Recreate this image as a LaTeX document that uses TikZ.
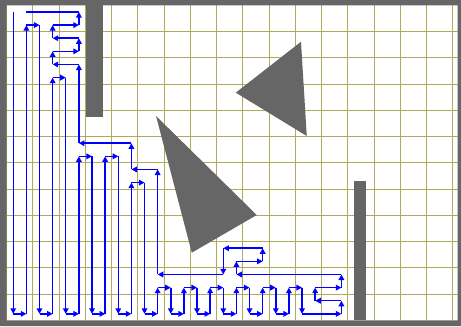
\documentclass[tikz,border=0pt]{standalone}
\usepackage{tikz}
\usetikzlibrary{arrows.meta}
\definecolor{WallGray}{RGB}{102,102,102}
\definecolor{GridOlive}{RGB}{176,170,92}
\definecolor{RouteBlue}{RGB}{0,0,255}

\begin{document}
\begin{tikzpicture}[x=9.84pt, y=-9.84pt,
    gridline/.style={GridOlive, line width=0.75pt},
    route/.style={RouteBlue, line width=1.1pt, -{Triangle[length=4.2pt,width=4.2pt]}}]
    \useasboundingbox (-0.51,-0.41) rectangle (34.61,24.43);

    % Grid cells
    \foreach \c in {0,2,...,34}
      \draw[gridline] (\c,0) -- (\c,24);
    \foreach \r in {2,4,...,22}
      \draw[gridline] (0,\r) -- (34.35,\r);

    % Walls and obstacles
    \fill[WallGray, even odd rule] (-0.51,-0.41) rectangle (34.61,24.43) (0,0) rectangle (34.35,24);
    \fill[WallGray] (6.04,0) rectangle (7.31,8.53);
    \fill[WallGray] (26.48,13.38) rectangle (27.35,24);
    \fill[WallGray] (22.42,2.77) -- (17.45,6.65) -- (22.86,9.95) -- cycle;
    \fill[WallGray] (11.38,8.43) -- (19.05,15.97) -- (14.1,18.84) -- cycle;

    % Coverage route
    \begin{scope}[shift={(0.5,0.5)}]
      \foreach \x/\y [remember=\x as \lx (initially 0), remember=\y as \ly (initially 0)] in
        {0/23, 1/23, 1/1, 2/1, 2/23, 3/23, 3/5, 4/5, 4/23, 5/23, 5/11, 6/11, 6/23,
         7/23, 7/11, 8/11, 8/23, 9/23, 9/13, 10/13, 10/23, 11/23, 11/21, 12/21,
         12/23, 13/23, 13/21, 14/21, 14/23, 15/23, 15/21, 16/21, 16/23, 17/23,
         17/21, 18/21, 18/23, 19/23, 19/21, 20/21, 20/23, 21/23, 21/21, 22/21,
         22/23, 25/23, 25/22, 23/22, 23/21, 25/21, 25/20, 17/20, 17/19, 19/19,
         19/18, 16/18, 16/20, 11/20, 11/12, 9/12, 9/10, 5/10, 5/4, 3/4, 3/3,
         5/3, 5/2, 3/2, 3/1, 5/1, 5/0}
        \draw[route] (\lx,\ly) -- (\x,\y);
      % last leg
      \draw[RouteBlue, line width=1.1pt] (5,0) -- (1,0);
    \end{scope}
\end{tikzpicture}
\end{document}
